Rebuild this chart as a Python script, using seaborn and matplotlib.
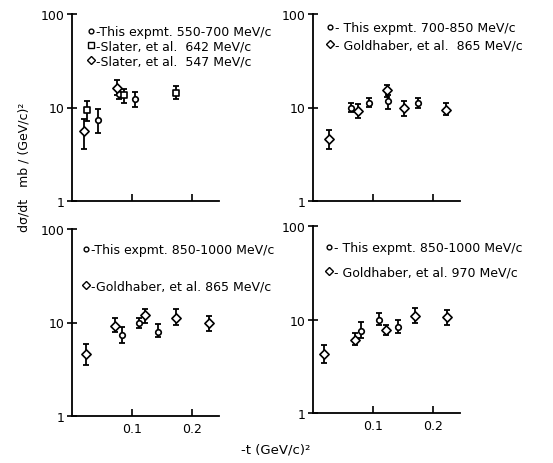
import matplotlib
matplotlib.use("Agg")
import matplotlib.pyplot as plt
from matplotlib.lines import Line2D
import seaborn as sns
import pandas as pd

sns.set_style("ticks")
plt.rcParams["font.family"] = ["DejaVu Sans"]
for key in ("text.color", "axes.labelcolor", "xtick.color", "ytick.color", "axes.edgecolor"):
    plt.rcParams[key] = "black"

# ---- data: -t in (GeV/c)^2, dsigma/dt in mb/(GeV/c)^2 with lower / upper error limits ----
# panel 1: 550-700 MeV/c
p1_this_t  = [0.043, 0.078, 0.105]
p1_this_v  = [7.3, 14.0, 12.2]
p1_this_lo = [5.4, 12.3, 10.2]
p1_this_hi = [9.6, 15.8, 14.6]
p1_sl642_t  = [0.025, 0.087, 0.173]
p1_sl642_v  = [9.4, 13.5, 14.3]
p1_sl642_lo = [7.2, 11.3, 12.3]
p1_sl642_hi = [11.6, 15.8, 17.0]
p1_sl547_t  = [0.020, 0.075]
p1_sl547_v  = [5.6, 16.0]
p1_sl547_lo = [3.6, 13.5]
p1_sl547_hi = [7.6, 19.5]

# panel 2: 700-850 MeV/c
p2_this_t  = [0.064, 0.093, 0.125, 0.175]
p2_this_v  = [10.0, 11.3, 11.6, 11.1]
p2_this_lo = [9.0, 10.1, 9.6, 9.8]
p2_this_hi = [11.2, 12.7, 13.6, 12.6]
p2_gold_t  = [0.027, 0.075, 0.123, 0.151, 0.221]
p2_gold_v  = [4.6, 9.1, 15.2, 10.0, 9.4]
p2_gold_lo = [3.6, 7.8, 13.0, 8.2, 8.3]
p2_gold_hi = [5.7, 10.8, 17.2, 11.8, 11.1]

# panel 3: 850-1000 MeV/c, Goldhaber 865 MeV/c
p3_this_t  = [0.083, 0.112, 0.144]
p3_this_v  = [7.4, 10.0, 8.0]
p3_this_lo = [6.1, 8.7, 7.0]
p3_this_hi = [9.0, 11.3, 9.6]
p3_gold_t  = [0.023, 0.071, 0.122, 0.173, 0.229]
p3_gold_v  = [4.6, 9.2, 11.9, 11.3, 10.0]
p3_gold_lo = [3.5, 8.0, 10.0, 9.3, 8.1]
p3_gold_hi = [5.9, 11.3, 14.0, 13.9, 11.8]

# panel 4: 850-1000 MeV/c, Goldhaber 970 MeV/c
p4_this_t  = [0.080, 0.110, 0.141]
p4_this_v  = [7.5, 9.8, 8.3]
p4_this_lo = [6.4, 8.7, 7.1]
p4_this_hi = [9.4, 11.6, 9.8]
p4_gold_t  = [0.019, 0.070, 0.121, 0.170, 0.223]
p4_gold_v  = [4.3, 6.1, 7.8, 11.0, 10.6]
p4_gold_lo = [3.4, 5.3, 6.9, 9.2, 8.8]
p4_gold_hi = [5.3, 7.2, 8.8, 13.3, 12.5]

x_ticks = [0.1, 0.2]
x_tick_labels = ["0.1", "0.2"]
y_ticks = [1, 10, 100]
y_tick_labels = ["1", "10", "100"]

MARK = {"circle": ("o", 16, 3.8), "square": ("s", 24, 4.6), "diamond": ("D", 22, 4.4)}


def series(t, v, lo, hi, shape, label):
    return dict(df=pd.DataFrame({"t": t, "v": v, "lo": lo, "hi": hi}), shape=shape, label=label)


panels = [
    dict(pos=(72, 15), series=[
        series(p1_this_t, p1_this_v, p1_this_lo, p1_this_hi, "circle", "-This expmt. 550-700 MeV/c"),
        series(p1_sl642_t, p1_sl642_v, p1_sl642_lo, p1_sl642_hi, "square", "-Slater, et al.  642 MeV/c"),
        series(p1_sl547_t, p1_sl547_v, p1_sl547_lo, p1_sl547_hi, "diamond", "-Slater, et al.  547 MeV/c"),
    ], leg=(0.105, 0.94), spacing=0.12, xlabels=False),
    dict(pos=(313, 15), series=[
        series(p2_this_t, p2_this_v, p2_this_lo, p2_this_hi, "circle", "- This expmt. 700-850 MeV/c"),
        series(p2_gold_t, p2_gold_v, p2_gold_lo, p2_gold_hi, "diamond", "- Goldhaber, et al.  865 MeV/c"),
    ], leg=(0.095, 0.96), spacing=0.3, xlabels=False),
    dict(pos=(72, 230), series=[
        series(p3_this_t, p3_this_v, p3_this_lo, p3_this_hi, "circle", "-This expmt. 850-1000 MeV/c"),
        series(p3_gold_t, p3_gold_v, p3_gold_lo, p3_gold_hi, "diamond", "-Goldhaber, et al. 865 MeV/c"),
    ], leg=(0.075, 0.925), spacing=1.9, xlabels=True),
    dict(pos=(313, 227), series=[
        series(p4_this_t, p4_this_v, p4_this_lo, p4_this_hi, "circle", "- This expmt. 850-1000 MeV/c"),
        series(p4_gold_t, p4_gold_v, p4_gold_lo, p4_gold_hi, "diamond", "- Goldhaber, et al. 970 MeV/c"),
    ], leg=(0.085, 0.92), spacing=0.9, xlabels=True),
]

W, H = 553, 464
fig = plt.figure(figsize=(W / 100, H / 100), dpi=100)
ax_w, ax_h = 147, 187

for p in panels:
    x0, y0 = p["pos"]
    ax = fig.add_axes([x0 / W, 1 - (y0 + ax_h) / H, ax_w / W, ax_h / H])
    handles, labels = [], []
    for s in p["series"]:
        d = s["df"]
        m, area, msize = MARK[s["shape"]]
        ax.errorbar(d["t"], d["v"], yerr=[d["v"] - d["lo"], d["hi"] - d["v"]], fmt="none",
                    ecolor="black", elinewidth=1.3, capsize=2.3, capthick=1.3, zorder=2)
        sns.scatterplot(data=d, x="t", y="v", marker=m, s=area, facecolor="white",
                        edgecolor="black", linewidth=1.2, zorder=3, ax=ax)
        handles.append(Line2D([], [], marker=m, linestyle="none", markersize=msize * 0.9,
                              markerfacecolor="white", markeredgecolor="black", markeredgewidth=1.0))
        labels.append(s["label"])
    ax.set_yscale("log")
    ax.set_ylim(1, 100)
    ax.set_xlim(0, 0.245)
    ax.set_yticks(y_ticks)
    ax.set_yticklabels(y_tick_labels)
    ax.yaxis.set_minor_locator(matplotlib.ticker.NullLocator())
    ax.set_xticks(x_ticks)
    ax.set_xticklabels(x_tick_labels if p["xlabels"] else [])
    ax.set_xlabel("")
    ax.set_ylabel("")
    ax.tick_params(axis="x", direction="in", length=5, width=1.2, labelsize=9, pad=4)
    ax.tick_params(axis="y", direction="inout", length=7, width=1.2, labelsize=9, pad=2)
    for side in ("top", "right"):
        ax.spines[side].set_visible(False)
    for side in ("left", "bottom"):
        ax.spines[side].set_linewidth(1.3)
    leg = ax.legend(handles, labels, loc="upper left", bbox_to_anchor=p["leg"], frameon=False,
                    fontsize=9, handlelength=0.5, handletextpad=0.15, borderpad=0,
                    borderaxespad=0, labelspacing=p["spacing"])
    leg.set_clip_on(False)

fig.text(24 / W, 1 - 167 / H, "dσ/dt   mb / (GeV/c)²", rotation=90, ha="center", va="center", fontsize=9)
fig.text(276 / W, 1 - 450 / H, "-t (GeV/c)²", ha="center", va="center", fontsize=9.5)

fig.savefig("out.png", dpi=100)
